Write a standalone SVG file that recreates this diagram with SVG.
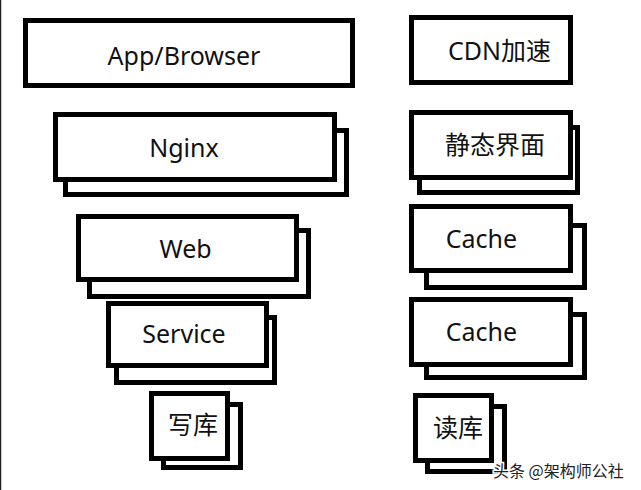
<svg xmlns="http://www.w3.org/2000/svg" width="641" height="490" viewBox="0 0 641 490">
<style>
.box{fill:#fff;stroke:#000;stroke-width:5}
.lbl{font-family:"Noto Sans","Noto Sans CJK SC",sans-serif;font-size:25px;fill:#111;text-anchor:middle}
.wm{font-family:"Noto Sans CJK SC",sans-serif;font-size:16px;fill:#222;stroke:#fff;stroke-width:3;paint-order:stroke}
</style>
<rect x="0" y="0" width="641" height="490" fill="#fff"/>
<line x1="0.5" y1="0" x2="0.5" y2="490" stroke="#222" stroke-width="1.5"/>
<g id="connectors"></g>
<g id="app-browser">
<rect class="box" x="25.5" y="20.5" width="327" height="65"/>
<text class="lbl" x="184" y="65">App/Browser</text>
</g>
<g id="nginx">
<rect class="box" x="65.5" y="130.5" width="281" height="64"/>
<rect class="box" x="55.5" y="114.5" width="279" height="65"/>
<text class="lbl" x="184" y="157">Nginx</text>
</g>
<g id="web">
<rect class="box" x="89.5" y="230.5" width="219" height="66"/>
<rect class="box" x="78.5" y="216.5" width="218" height="63"/>
<text class="lbl" x="185.5" y="258">Web</text>
</g>
<g id="service">
<rect class="box" x="116.5" y="317.5" width="158" height="65"/>
<rect class="box" x="108.5" y="303.5" width="158" height="62"/>
<text class="lbl" x="184" y="343">Service</text>
</g>
<g id="write-db">
<rect class="box" x="163.5" y="404.5" width="77" height="63"/>
<rect class="box" x="151.5" y="393.5" width="76" height="65"/>
<text class="lbl" x="193" y="434">写库</text>
</g>
<g id="cdn">
<rect class="box" x="411.5" y="17.5" width="159" height="65"/>
<text class="lbl" x="499.5" y="60">CDN加速</text>
</g>
<g id="static-page">
<rect class="box" x="419.5" y="127.5" width="158" height="65"/>
<rect class="box" x="411.5" y="112.5" width="159" height="65"/>
<text class="lbl" x="495" y="154">静态界面</text>
</g>
<g id="cache-1">
<rect class="box" x="426.5" y="225.5" width="158" height="62"/>
<rect class="box" x="411.5" y="206.5" width="159" height="64"/>
<text class="lbl" x="481.5" y="248">Cache</text>
</g>
<g id="cache-2">
<rect class="box" x="426.5" y="314.5" width="158" height="63"/>
<rect class="box" x="411.5" y="299.5" width="159" height="65"/>
<text class="lbl" x="481.5" y="341">Cache</text>
</g>
<g id="read-db">
<rect class="box" x="427.5" y="406.5" width="77" height="65"/>
<rect class="box" x="415.5" y="395.5" width="76" height="65"/>
<text class="lbl" x="458" y="437">读库</text>
</g>
<text class="wm" x="493" y="477">头条 @架构师公社</text>
</svg>
